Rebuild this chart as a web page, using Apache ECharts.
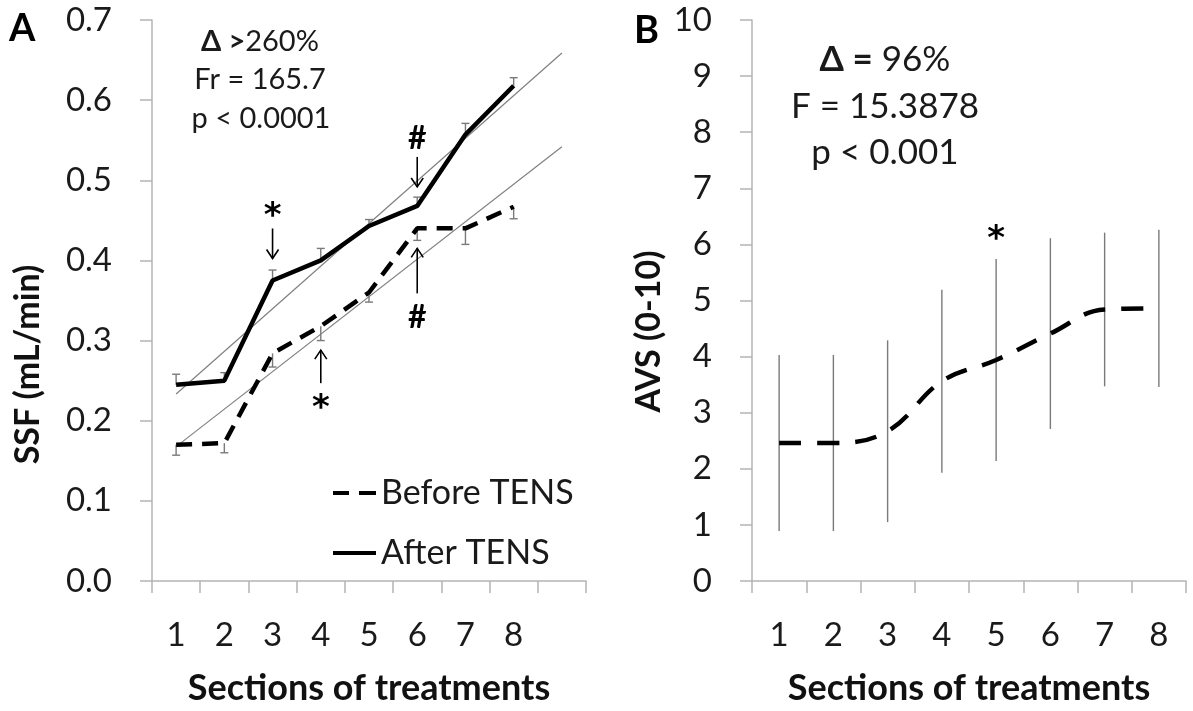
<!DOCTYPE html>
<html>
<head>
<meta charset="utf-8">
<script src="https://cdn.jsdelivr.net/npm/echarts@6/dist/echarts.min.js"></script>
<style>
html,body{margin:0;padding:0;background:#fff;}
#chart{width:1193px;height:711px;}
</style>
</head>
<body>
<div id="chart"></div>
<script>
// ---------------- DATA ----------------
const categoriesA = ['1', '2', '3', '4', '5', '6', '7', '8', ''];
const categoriesB = ['1', '2', '3', '4', '5', '6', '7', '8'];
const yTickLabelsA = ['0.0', '0.1', '0.2', '0.3', '0.4', '0.5', '0.6', '0.7'];
const yTickLabelsB = ['0', '1', '2', '3', '4', '5', '6', '7', '8', '9', '10'];

const beforeTENS = [0.170, 0.172, 0.284, 0.318, 0.360, 0.440, 0.440, 0.467];
const beforeErr  = [0.013, 0.012, 0.017, 0.018, 0.012, 0.015, 0.020, 0.015];
const afterTENS  = [0.245, 0.250, 0.375, 0.400, 0.443, 0.468, 0.557, 0.618];
const afterErr   = [0.013, 0.010, 0.013, 0.015, 0.008, 0.011, 0.014, 0.010];

const avsMean = [2.46, 2.46, 2.67, 3.56, 3.94, 4.41, 4.84, 4.86];
const avsSD   = [1.57, 1.57, 1.62, 1.63, 1.80, 1.70, 1.37, 1.40];

const seriesNames = ['Before TENS', 'After TENS'];
const statsA = ['Δ >', '260%', 'Fr = 165.7', 'p < 0.0001'];
const statsB = ['Δ =', '96%', 'F = 15.3878', 'p < 0.001'];

// significance annotations (category index, series anchored to, mark, arrow direction)
const annotationsA = [
  {cat: 2, on: 'after', mark: '*', dir: 'down'},
  {cat: 5, on: 'after', mark: '#', dir: 'down'},
  {cat: 3, on: 'before', mark: '*', dir: 'up'},
  {cat: 5, on: 'before', mark: '#', dir: 'up'}
];
const annotationsB = [{cat: 4, mark: '*'}];

// ---------------- LAYOUT / STYLE ----------------
const FONT = 'Lato, "DejaVu Sans", sans-serif';
const STAR_FONT = 'bold 34px "DejaVu Sans", sans-serif';
const HASH_FONT = 'bold 32px ' + FONT;
const annotLayoutA = [
  {gap: 22, len: 30, textGap: 18},
  {gap: 19, len: 30, textGap: 18},
  {gap: 24, len: 33, textGap: 19},
  {gap: 20, len: 45, textGap: 24}
];
const axisGray = '#b4b4b4';

function linFit(ys) {
  const n = ys.length;
  let sx = 0, sy = 0, sxy = 0, sxx = 0;
  for (let i = 0; i < n; i++) {
    const x = i + 1;
    sx += x; sy += ys[i]; sxy += x * ys[i]; sxx += x * x;
  }
  const b = (n * sxy - sx * sy) / (n * sxx - sx * sx);
  const a = (sy - b * sx) / n;
  // trendline from x=1 forecast one period forward (x=n+1)
  return [[0, a + b * 1], [n, a + b * (n + 1)]];
}

function errBarItem(capHalf) {
  return function (params, api) {
    const i = api.value(0);
    const lo = api.coord([i, api.value(1)]);
    const hi = api.coord([i, api.value(2)]);
    const capEnd = api.value(3); // 1: cap at high, -1: cap at low, 0: none
    const style = {stroke: '#7a7a7a', lineWidth: 1.4, fill: null};
    const children = [{type: 'line', shape: {x1: lo[0], y1: lo[1], x2: hi[0], y2: hi[1]}, style: style}];
    if (capHalf > 0 && capEnd !== 0) {
      const p = capEnd > 0 ? hi : lo;
      children.push({type: 'line', shape: {x1: p[0] - capHalf, y1: p[1], x2: p[0] + capHalf, y2: p[1]}, style: style});
    }
    return {type: 'group', children: children};
  };
}

const errAfterData = afterTENS.map((v, i) => [i, v, v + afterErr[i], 1]);
const errBeforeData = beforeTENS.map((v, i) => [i, v - beforeErr[i], v, -1]);
const errAvsData = avsMean.map((v, i) => [i, v - avsSD[i], v + avsSD[i], 0]);

function arrowShapes(x, yTail, yTip) {
  const dir = yTip > yTail ? 1 : -1;
  const st = {stroke: '#000', lineWidth: 1.6, fill: null};
  return [
    {type: 'line', shape: {x1: x, y1: yTail, x2: x, y2: yTip}, style: st},
    {type: 'polyline', shape: {points: [[x - 6, yTip - dir * 9], [x, yTip], [x + 6, yTip - dir * 9]]}, style: st}
  ];
}

function markText(mark, x, y) {
  const isStar = mark === '*';
  return {type: 'text', style: {text: mark, x: x, y: y + (isStar ? 7 : 0), align: 'center', verticalAlign: 'middle',
    font: isStar ? STAR_FONT : HASH_FONT, fill: '#000'}};
}

const annotDataA = annotationsA.map((a, k) => [a.cat, (a.on === 'after' ? afterTENS : beforeTENS)[a.cat], k]);
function renderAnnotA(params, api) {
  const k = api.value(2);
  const a = annotationsA[k];
  const L = annotLayoutA[k];
  const p = api.coord([api.value(0), api.value(1)]);
  const s = a.dir === 'down' ? -1 : 1;
  const yTip = p[1] + s * L.gap;
  const yTail = yTip + s * L.len;
  const yText = yTail + s * L.textGap;
  const children = arrowShapes(p[0], yTail, yTip);
  children.push(markText(a.mark, p[0], yText));
  return {type: 'group', children: children};
}

const annotDataB = annotationsB.map((a, k) => [a.cat, avsMean[a.cat] + avsSD[a.cat], k]);
function renderAnnotB(params, api) {
  const k = api.value(2);
  const a = annotationsB[k];
  const p = api.coord([api.value(0), api.value(1)]);
  return markText(a.mark, p[0], p[1] - 26);
}

const chart = echarts.init(document.getElementById('chart'), null, {renderer: 'canvas'});

function xAxisCfg(cats, gridIndex) {
  return {
    type: 'category', gridIndex: gridIndex, data: cats, boundaryGap: true,
    axisLine: {lineStyle: {color: axisGray, width: 1.5}},
    axisTick: {show: true, inside: false, length: 12, lineStyle: {color: axisGray, width: 1.5}},
    axisLabel: {color: '#1a1a1a', fontSize: 33, fontFamily: FONT, margin: 38, interval: 0},
    splitLine: {show: false},
    name: 'Sections of treatments', nameLocation: 'middle', nameGap: 89,
    nameTextStyle: {color: '#111', fontSize: 36, fontWeight: 'bold', fontFamily: FONT}
  };
}
function yAxisCfg(gridIndex, min, max, interval, name, gap, shift, labelFn) {
  return {
    type: 'value', gridIndex: gridIndex, min: min, max: max, interval: interval,
    axisLine: {show: true, lineStyle: {color: axisGray, width: 1.5}},
    axisTick: {show: true, inside: false, length: 12, lineStyle: {color: axisGray, width: 1.5}},
    axisLabel: {color: '#1a1a1a', fontSize: 33, fontFamily: FONT, margin: 40, formatter: labelFn},
    splitLine: {show: false},
    name: name, nameLocation: 'middle', nameGap: gap, nameRotate: 90,
    nameTextStyle: {color: '#111', fontSize: 34, fontWeight: 'bold', fontFamily: FONT, padding: [0, shift, 0, 0]}
  };
}

const option = {
  backgroundColor: '#fff',
  animation: false,
  grid: [
    {left: 152, top: 20, width: 434, height: 561, outerBoundsMode: 'none', containLabel: false},
    {left: 752, top: 20, width: 434, height: 561, outerBoundsMode: 'none', containLabel: false}
  ],
  xAxis: [xAxisCfg(categoriesA, 0), xAxisCfg(categoriesB, 1)],
  yAxis: [
    yAxisCfg(0, 0, 0.7, 0.1, 'SSF (mL/min)', 107, 128, v => yTickLabelsA[Math.round(v * 10)]),
    yAxisCfg(1, 0, 10, 1, 'AVS (0-10)', 86, 62, v => yTickLabelsB[Math.round(v)])
  ],
  legend: {
    data: [
      {name: seriesNames[0], icon: 'path://M0,0h16v4h-16z M26,0h17v4h-17z'},
      {name: seriesNames[1], icon: 'path://M0,0h43v4h-43z'}
    ],
    orient: 'vertical', left: 328, top: 470,
    itemWidth: 43, itemHeight: 5, itemGap: 24,
    textStyle: {color: '#1a1a1a', fontSize: 34, fontFamily: FONT, lineHeight: 36}
  },
  graphic: [
    {type: 'text', left: 9, top: 10, style: {text: 'A', font: 'bold 38px ' + FONT, fill: '#000'}},
    {type: 'text', left: 634, top: 12, style: {text: 'B', font: 'bold 38px ' + FONT, fill: '#000'}},
    {type: 'text', x: 260, y: 42, style: {text: '{b|' + statsA[0] + '}{n|' + statsA[1] + '}', align: 'center', verticalAlign: 'middle',
      rich: {b: {font: 'bold 29px ' + FONT, fill: '#1a1a1a'}, n: {font: '29px ' + FONT, fill: '#1a1a1a'}}}},
    {type: 'text', x: 260, y: 80, style: {text: statsA[2], align: 'center', verticalAlign: 'middle', font: '29px ' + FONT, fill: '#1a1a1a'}},
    {type: 'text', x: 261, y: 119, style: {text: statsA[3], align: 'center', verticalAlign: 'middle', font: '29px ' + FONT, fill: '#1a1a1a'}},
    {type: 'text', x: 885, y: 60, style: {text: '{b|' + statsB[0] + '}{n| ' + statsB[1] + '}', align: 'center', verticalAlign: 'middle',
      rich: {b: {font: 'bold 35px ' + FONT, fill: '#1a1a1a'}, n: {font: '35px ' + FONT, fill: '#1a1a1a'}}}},
    {type: 'text', x: 885, y: 107, style: {text: statsB[2], align: 'center', verticalAlign: 'middle', font: '35px ' + FONT, fill: '#1a1a1a'}},
    {type: 'text', x: 885, y: 153, style: {text: statsB[3], align: 'center', verticalAlign: 'middle', font: '35px ' + FONT, fill: '#1a1a1a'}}
  ],
  series: [
    {type: 'line', name: 'trendAfter', xAxisIndex: 0, yAxisIndex: 0, data: linFit(afterTENS), symbol: 'none',
      lineStyle: {color: '#808080', width: 1.2}, z: 1, silent: true},
    {type: 'line', name: 'trendBefore', xAxisIndex: 0, yAxisIndex: 0, data: linFit(beforeTENS), symbol: 'none',
      lineStyle: {color: '#808080', width: 1.2}, z: 1, silent: true},
    {type: 'custom', name: 'errAfter', xAxisIndex: 0, yAxisIndex: 0, data: errAfterData, renderItem: errBarItem(4), z: 2, silent: true},
    {type: 'custom', name: 'errBefore', xAxisIndex: 0, yAxisIndex: 0, data: errBeforeData, renderItem: errBarItem(4), z: 2, silent: true},
    {type: 'line', name: seriesNames[0], xAxisIndex: 0, yAxisIndex: 0, data: beforeTENS, symbol: 'none', showSymbol: false,
      lineStyle: {color: '#000', width: 4.5, type: [16, 10]}, itemStyle: {color: '#000'}, z: 3},
    {type: 'line', name: seriesNames[1], xAxisIndex: 0, yAxisIndex: 0, data: afterTENS, symbol: 'none', showSymbol: false,
      lineStyle: {color: '#000', width: 4.5}, itemStyle: {color: '#000'}, z: 3},
    {type: 'custom', name: 'annotA', xAxisIndex: 0, yAxisIndex: 0, data: annotDataA, renderItem: renderAnnotA, z: 4, silent: true},

    {type: 'custom', name: 'errAVS', xAxisIndex: 1, yAxisIndex: 1, data: errAvsData, renderItem: errBarItem(0), z: 2, silent: true},
    {type: 'line', name: 'AVS', xAxisIndex: 1, yAxisIndex: 1, data: avsMean, symbol: 'none', showSymbol: false, smooth: 0.4,
      lineStyle: {color: '#000', width: 4.5, type: [22, 16]}, z: 3},
    {type: 'custom', name: 'annotB', xAxisIndex: 1, yAxisIndex: 1, data: annotDataB, renderItem: renderAnnotB, z: 4, silent: true}
  ]
};
chart.setOption(option);
</script>
</body>
</html>
